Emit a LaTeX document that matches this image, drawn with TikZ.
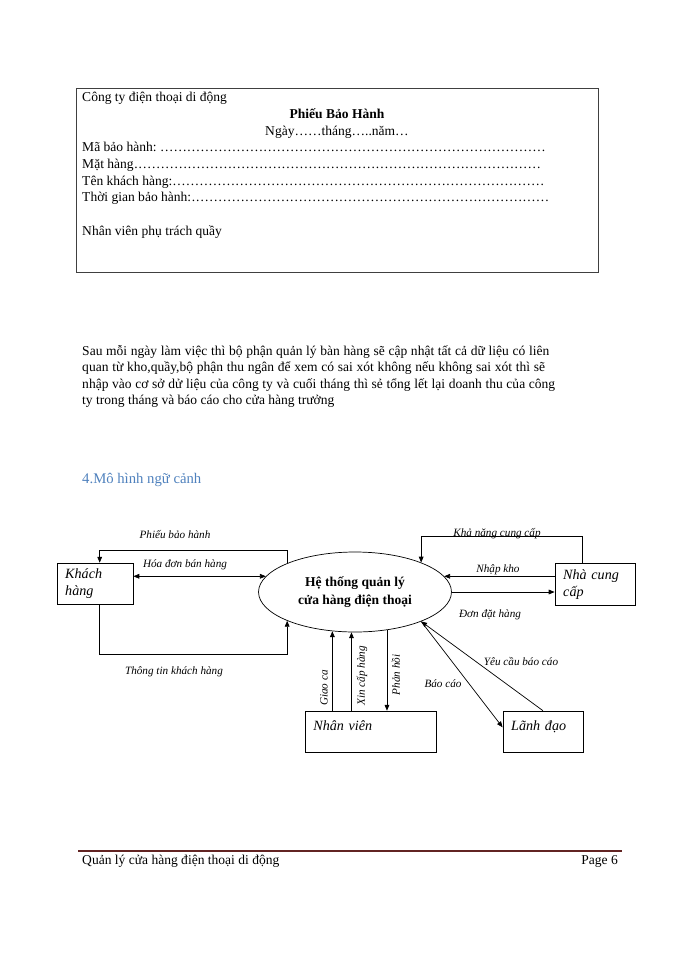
\documentclass[tikz,border=0pt]{standalone}
\usepackage{fontspec}
\setmainfont{Liberation Serif}
\usetikzlibrary{shapes.geometric,arrows.meta}
\definecolor{headblue}{RGB}{79,129,189}
\definecolor{footred}{RGB}{98,36,35}
\newcommand\dotrow{\xleaders\hbox to 0.33em{\hss.\hss}\hfill}
\begin{document}
\begin{tikzpicture}[x=0.85pt,y=-0.85pt,
  pagetext/.style={anchor=base west,inner sep=0pt,font=\fontsize{11.5}{14}\selectfont},
  entity/.style={draw,line width=0.7pt,inner xsep=7pt,minimum height=35.5pt,align=left,font=\fontsize{12}{14.5}\selectfont\itshape},
  lowbox/.style={text height=6pt,text depth=8pt},
  process/.style={draw,ellipse,line width=0.6pt,minimum width=164pt,minimum height=68pt,inner sep=0pt,align=center,font=\fontsize{11.5}{15}\selectfont\bfseries},
  flow/.style={line width=0.6pt,-{Triangle[length=5pt,width=4pt]}},
  dflow/.style={line width=0.6pt,{Triangle[length=5pt,width=4pt]}-{Triangle[length=5pt,width=4pt]}},
  flowlabel/.style={inner sep=0pt,font=\fontsize{9.5}{11}\selectfont\itshape}]
  \useasboundingbox (0,0) rectangle (700,960);
  \node[draw,line width=0.75pt,black!75,minimum width=443.7pt,minimum height=156.4pt,inner sep=0pt] (form) at (337,180) {};
  \node[pagetext] (company) at (82,101.5) {Công ty điện thoại di động};
  \node[pagetext,anchor=base,font=\fontsize{11.5}{14}\selectfont\bfseries] (formtitle) at (337,118) {Phiếu Bảo Hành};
  \node[pagetext,anchor=base] (formdate) at (337,135) {Ngày……tháng…..năm…};
  \node[pagetext] (warrantycode) at (82,151.5) {\makebox[394pt][l]{Mã bảo hành:\ \dotrow}};
  \node[pagetext] (item) at (82,168) {\makebox[390pt][l]{Mặt hàng\dotrow}};
  \node[pagetext] (custname) at (82,185) {\makebox[393pt][l]{Tên khách hàng:\dotrow}};
  \node[pagetext] (period) at (82,201.5) {\makebox[397pt][l]{Thời gian bảo hành:\dotrow}};
  \node[pagetext] (clerk) at (82,235) {Nhân viên phụ trách quầy};
  \node[pagetext] (paraone) at (82,355) {\makebox[397pt][s]{Sau mỗi ngày làm việc thì bộ phận quản lý bàn hàng sẽ cập nhật tất cả dữ liệu có liên}};
  \node[pagetext] (paratwo) at (82,371.5) {\makebox[393.5pt][s]{quan từ kho,quầy,bộ phận thu ngân để xem có sai xót không nếu không sai xót thì sẽ}};
  \node[pagetext] (parathree) at (82,388) {\makebox[402pt][s]{nhập vào cơ sở dử liệu của công ty và cuối tháng thì sẻ tổng lết lại doanh thu của công}};
  \node[pagetext] (parafour) at (82,404.5) {ty trong tháng và báo cáo cho cửa hàng trưởng};
  \node[pagetext,font=\fontsize{12.5}{15}\selectfont,text=headblue] (heading) at (82,483) {4.Mô hình ngữ cảnh};
  \node[process] (sys) at (355,592) {Hệ thống quản lý\\cửa hàng điện thoại};
  \node[entity,text width=50.6pt] (kh) at (95,584) {Khách\\hàng};
  \node[entity,text width=54pt] (ncc) at (595,584.5) {Nhà cung\\cấp};
  \node[entity,lowbox,text width=98pt] (nv) at (371,732) {Nhân viên};
  \node[entity,lowbox,text width=54pt] (ld) at (543,732) {Lãnh đạo};
  \draw[flow] (sys.157) -- ++(0,-13) -| ([xshift=4pt]kh.north);
  \draw[dflow] (kh.east |- sys.170) -- (sys.170);
  \draw[flow] ([xshift=4pt]kh.south) -- ++(0,49) -| (sys.203);
  \draw[flow] ([xshift=-11pt]ncc.north) -- ++(0,-26.5) -| (sys.24);
  \draw[flow] (ncc.west |- sys.10) -- (sys.10);
  \draw[flow] (sys.east) -- (sys.east -| ncc.west);
  \draw[flow] (nv.north -| sys.240) -- (sys.240);
  \draw[flow] (nv.north -| sys.265) -- (sys.265);
  \draw[flow] (sys.310) -- (sys.310 |- nv.north);
  \draw[flow] (sys.336) -- ([yshift=4pt]ld.west);
  \draw[flow] (ld.north) -- (sys.336);
  \node[flowlabel] (lblwarranty) at (175,535) {Phiếu bảo hành};
  \node[flowlabel] (lblinvoice) at (185,565) {Hóa đơn bán hàng};
  \node[flowlabel] (lblcustinfo) at (174,672) {Thông tin khách hàng};
  \node[flowlabel] (lblsupply) at (497,534) {Khả năng cung cấp};
  \node[flowlabel] (lblstock) at (498,570) {Nhập kho};
  \node[flowlabel] (lblorder) at (490,615) {Đơn đặt hàng};
  \node[flowlabel,rotate=90] (lblshift) at (324,688) {Giao ca};
  \node[flowlabel,rotate=90] (lblrequest) at (362,676) {Xin cấp hàng};
  \node[flowlabel,rotate=90] (lblreply) at (396,675) {Phản hồi};
  \node[flowlabel] (lblreport) at (443,684) {Báo cáo};
  \node[flowlabel] (lblreportreq) at (521,662) {Yêu cầu báo cáo};
  \draw[footred,line width=2.5pt] (78,851) -- (622,851);
  \node[pagetext] (footleft) at (82,864) {Quản lý cửa hàng điện thoại di động};
  \node[pagetext,anchor=base east] (footright) at (618,864) {Page 6};
\end{tikzpicture}
\end{document}
